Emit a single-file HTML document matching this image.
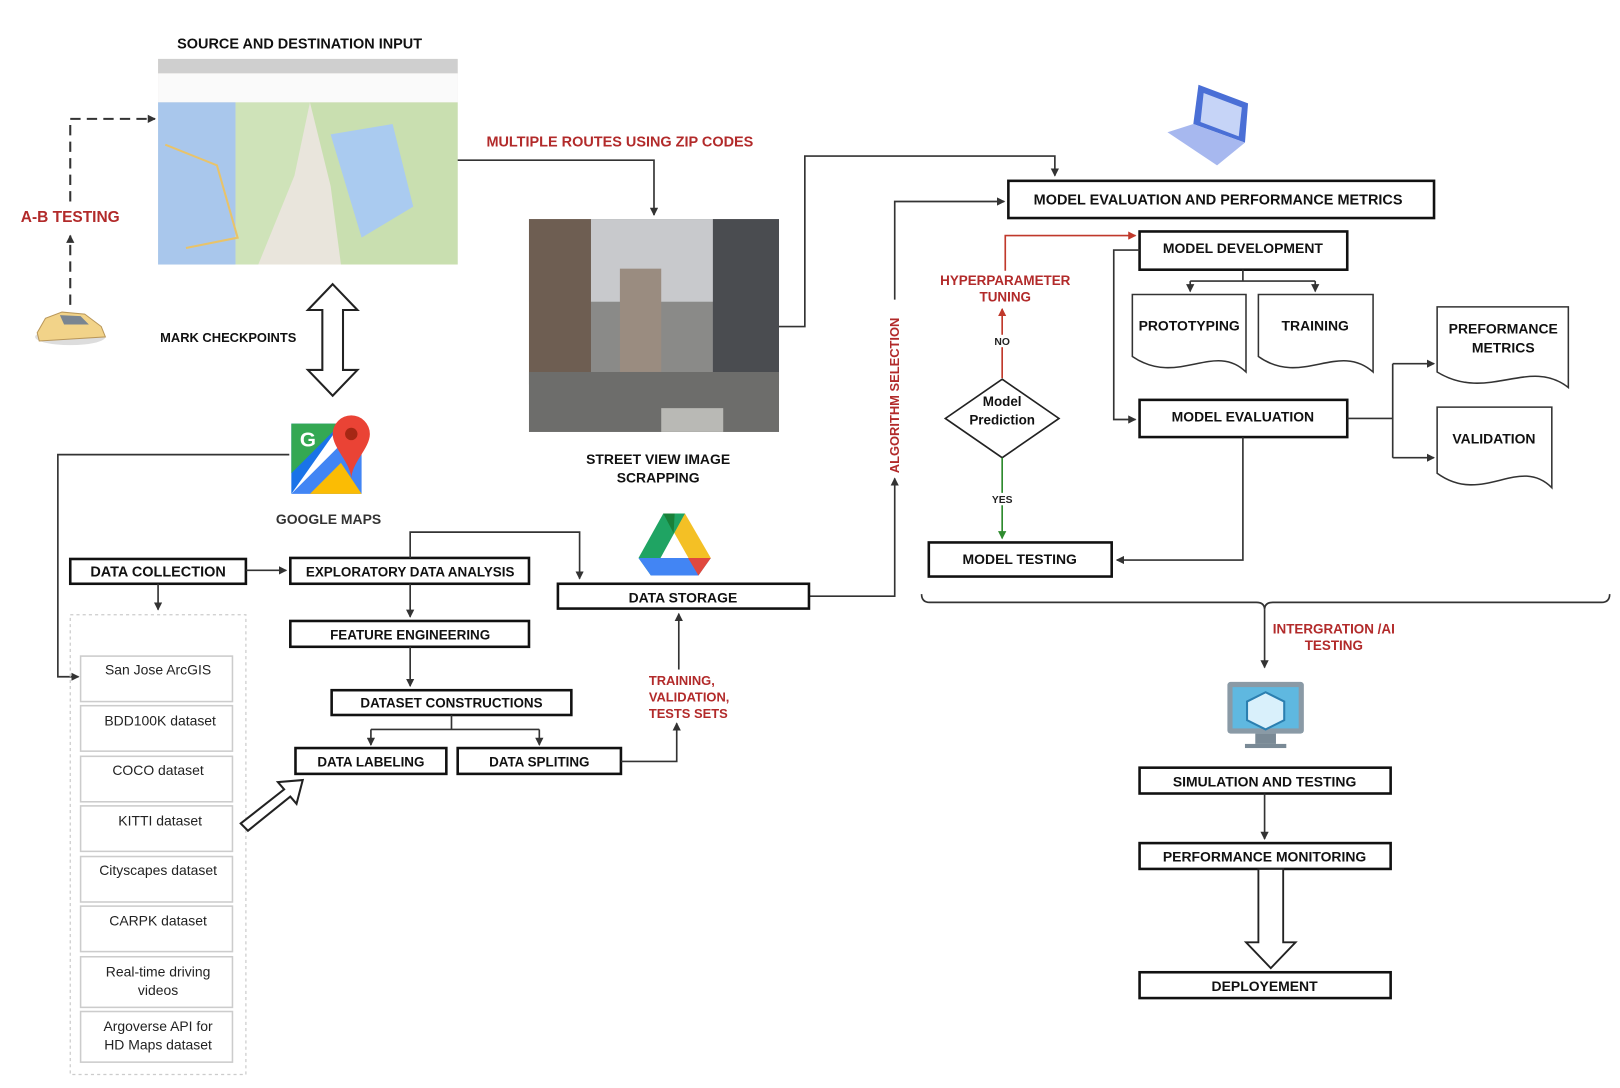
<!DOCTYPE html>
<html><head><meta charset="utf-8"><style>
html,body{margin:0;padding:0;background:#fff;}
svg{display:block;font-family:"Liberation Sans",Arial,sans-serif;}
.b{fill:#fff;stroke:#111;stroke-width:2.5;}
.t{font-weight:bold;font-size:13.5px;fill:#111;text-anchor:middle;}
.r{font-weight:bold;font-size:13px;fill:#b22a2a;text-anchor:middle;}
.l{fill:none;stroke:#333;stroke-width:1.6;}
.it{fill:#fff;stroke:#ccc;stroke-width:1.5;}
.itt{font-size:13.5px;fill:#222;text-anchor:middle;}
</style></head><body>
<svg width="1620" height="1088" viewBox="0 0 1568 1053" xmlns="http://www.w3.org/2000/svg">
<defs>
<marker id="a" markerWidth="8" markerHeight="8" refX="7" refY="4" orient="auto" markerUnits="userSpaceOnUse"><path d="M0,0 L8,4 L0,8 z" fill="#333"/></marker>
<marker id="ar" markerWidth="8" markerHeight="8" refX="7" refY="4" orient="auto" markerUnits="userSpaceOnUse"><path d="M0,0 L8,4 L0,8 z" fill="#c0392b"/></marker>
<marker id="ag" markerWidth="8" markerHeight="8" refX="7" refY="4" orient="auto" markerUnits="userSpaceOnUse"><path d="M0,0 L8,4 L0,8 z" fill="#2e8b2e"/></marker>
</defs>

<!-- source input -->
<text x="290" y="47" class="t" style="font-size:14px">SOURCE AND DESTINATION INPUT</text>
<rect x="153" y="57" width="290" height="199" fill="#e9e5dc"/>
<rect x="153" y="57" width="290" height="14" fill="#cfcfcf"/>
<rect x="153" y="71" width="290" height="28" fill="#fafafa"/>
<rect x="153" y="99" width="75" height="157" fill="#a9c7ec"/>
<path d="M228,99 L300,99 L285,170 L250,256 L228,256 z" fill="#cfe3b9"/>
<path d="M300,99 L443,99 L443,256 L330,256 L320,180 z" fill="#c9dfb0"/>
<path d="M320,130 L380,120 L400,200 L350,230 z" fill="#aacbf0"/>
<path d="M160,140 L210,160 L230,230 L180,240" fill="none" stroke="#e8c36a" stroke-width="2"/>
<path d="M68,295 L68,228" stroke="#333" stroke-width="2" stroke-dasharray="10,6" fill="none" marker-end="url(#a)"/>
<path d="M68,195 L68,115 L150,115" stroke="#333" stroke-width="2" stroke-dasharray="10,6" fill="none" marker-end="url(#a)"/>
<text x="68" y="215" class="r" style="font-size:15px">A-B TESTING</text>
<g transform="translate(68,318)"><ellipse cx="0" cy="8" rx="34" ry="8" fill="#ddd"/><path d="M-32,4 L-24,-10 L-8,-16 L14,-14 L30,-2 L34,8 L-30,12 z" fill="#f2d389" stroke="#b9975a"/><path d="M-10,-13 L10,-12 L18,-4 L-6,-4 z" fill="#7a8591"/></g>

<text x="155" y="331" font-size="12.5" font-weight="bold" fill="#111">MARK CHECKPOINTS</text>
<path d="M322,275 L346,300 L332,300 L332,358 L346,358 L322,383 L298,358 L312,358 L312,300 L298,300 z" fill="#fff" stroke="#222" stroke-width="2"/>

<!-- google maps icon -->
<g>
<path d="M282,410 L330,410 L282,478 z" fill="#1a73e8"/>
<path d="M282,410 L330,410 L282,458 z" fill="#34a853"/>
<path d="M282,478 L350,410 L350,478 z" fill="#4285f4"/>
<path d="M300,478 L330,448 L350,478 z" fill="#fbbc04"/>
<path d="M340,402 a18,18 0 0 1 18,18 c0,14 -18,28 -18,44 c0,-16 -18,-30 -18,-44 a18,18 0 0 1 18,-18z" fill="#ea4335"/>
<circle cx="340" cy="420" r="6" fill="#a52714"/>
<text x="298" y="432" font-size="20" font-weight="bold" fill="#fff" text-anchor="middle">G</text>
</g>
<text x="318" y="507" class="t" style="font-weight:bold;fill:#333">GOOGLE MAPS</text>
<path d="M280,440 L56,440 L56,655 L76,655" class="l" marker-end="url(#a)"/>

<text x="600" y="142" class="r" style="font-size:14px">MULTIPLE ROUTES  USING ZIP CODES</text>
<path d="M443,155 L633,155 L633,208" class="l" marker-end="url(#a)"/>

<!-- street photo -->
<rect x="512" y="212" width="242" height="206" fill="#8a8a88"/>
<rect x="512" y="212" width="242" height="80" fill="#c8c9cc"/>
<rect x="512" y="212" width="60" height="160" fill="#6e5e52"/>
<rect x="690" y="212" width="64" height="160" fill="#4a4c50"/>
<rect x="600" y="260" width="40" height="110" fill="#9a8c80"/>
<rect x="512" y="360" width="242" height="58" fill="#6d6d6b"/>
<rect x="640" y="395" width="60" height="23" fill="#b9b9b5"/>
<text x="637" y="449" class="t">STREET VIEW IMAGE</text>
<text x="637" y="467" class="t">SCRAPPING</text>
<path d="M754,316 L779,316 L779,151 L1021,151 L1021,170" class="l" marker-end="url(#a)"/>

<!-- laptop -->
<g>
<path d="M1160,82 L1208,100 L1205,138 L1155,120 z" fill="#4a6fd6"/>
<path d="M1165,90 L1202,104 L1199,132 L1162,118 z" fill="#c6d4f7"/>
<path d="M1130,128 L1155,120 L1205,138 L1178,160 z" fill="#a7b8ef"/>
</g>

<rect x="976" y="175" width="412" height="36" class="b"/>
<text x="1179" y="198" class="t" style="font-size:14px">MODEL  EVALUATION AND PERFORMANCE METRICS</text>

<!-- algorithm selection -->
<path d="M783,577 L866,577 L866,463" class="l" marker-end="url(#a)"/>
<text transform="translate(870,458) rotate(-90)" font-size="12.5" font-weight="bold" fill="#b22a2a">ALGORITHM SELECTION</text>
<path d="M866,290 L866,195 L972,195" class="l" marker-end="url(#a)"/>

<text x="973" y="276" class="r">HYPERPARAMETER</text>
<text x="973" y="292" class="r">TUNING</text>
<path d="M973,262 L973,228 L1099,228" fill="none" stroke="#c0392b" stroke-width="1.6" marker-end="url(#ar)"/>
<path d="M970,366 L970,299" fill="none" stroke="#c0392b" stroke-width="1.6" marker-end="url(#ar)"/>
<rect x="960" y="324" width="20" height="12" fill="#fff"/>
<text x="970" y="334" font-size="10" font-weight="bold" text-anchor="middle" fill="#222">NO</text>
<path d="M970,367 L1025,405 L970,443 L915,405 z" fill="#fff" stroke="#222" stroke-width="1.6"/>
<text x="970" y="393" class="t" style="font-size:13px">Model</text>
<text x="970" y="411" class="t" style="font-size:13px">Prediction</text>
<path d="M970,443 L970,521" fill="none" stroke="#2e8b2e" stroke-width="1.6" marker-end="url(#ag)"/>
<rect x="958" y="477" width="24" height="12" fill="#fff"/>
<text x="970" y="487" font-size="10" font-weight="bold" text-anchor="middle" fill="#222">YES</text>
<rect x="899" y="525" width="177" height="33" class="b"/>
<text x="987" y="546" class="t">MODEL TESTING</text>

<rect x="1103" y="224" width="201" height="37" class="b"/>
<text x="1203" y="245" class="t">MODEL DEVELOPMENT</text>
<path d="M1103,242 L1078,242 L1078,406 L1099,406" class="l" marker-end="url(#a)"/>
<path d="M1203,261 L1203,272 M1152,272 L1273,272" class="l"/>
<path d="M1152,272 L1152,282" class="l" marker-end="url(#a)"/>
<path d="M1273,272 L1273,282" class="l" marker-end="url(#a)"/>
<path d="M1096,285 L1206,285 L1206,360 C1175,330 1140,375 1096,345 z" fill="#fff" stroke="#333" stroke-width="1.5"/>
<text x="1151" y="320" class="t">PROTOTYPING</text>
<path d="M1218,285 L1329,285 L1329,360 C1295,330 1260,375 1218,345 z" fill="#fff" stroke="#333" stroke-width="1.5"/>
<text x="1273" y="320" class="t">TRAINING</text>

<rect x="1103" y="387" width="201" height="36" class="b"/>
<text x="1203" y="408" class="t">MODEL EVALUATION</text>
<path d="M1304,405 L1348,405 M1348,352 L1348,443" class="l"/>
<path d="M1348,352 L1388,352" class="l" marker-end="url(#a)"/>
<path d="M1348,443 L1388,443" class="l" marker-end="url(#a)"/>
<path d="M1391,297 L1518,297 L1518,375 C1480,345 1440,390 1391,360 z" fill="#fff" stroke="#333" stroke-width="1.5"/>
<text x="1455" y="323" class="t">PREFORMANCE</text>
<text x="1455" y="341" class="t">METRICS</text>
<path d="M1391,394 L1502,394 L1502,472 C1470,440 1435,490 1391,458 z" fill="#fff" stroke="#333" stroke-width="1.5"/>
<text x="1446" y="429" class="t">VALIDATION</text>
<path d="M1203,423 L1203,542 L1081,542" class="l" marker-end="url(#a)"/>

<!-- brace -->
<path d="M892,575 Q892,583 900,583 L1216,583 Q1224,583 1224,590 Q1224,583 1232,583 L1550,583 Q1558,583 1558,575" class="l"/>
<path d="M1224,590 L1224,646" class="l" marker-end="url(#a)"/>
<text x="1291" y="613" class="r">INTERGRATION /AI</text>
<text x="1291" y="629" class="r">TESTING</text>
<g>
<rect x="1188" y="660" width="74" height="50" rx="3" fill="#8a9aa6"/>
<rect x="1193" y="665" width="64" height="40" fill="#5fb8e0"/>
<path d="M1225,670 L1243,679 L1243,697 L1225,706 L1207,697 L1207,679 z" fill="#d9f0fb" stroke="#2b7fb0" stroke-width="2"/>
<rect x="1215" y="710" width="20" height="10" fill="#7a8a96"/>
<rect x="1205" y="720" width="40" height="4" fill="#7a8a96"/>
</g>
<rect x="1103" y="743" width="243" height="25" class="b"/>
<text x="1224" y="761" class="t">SIMULATION AND TESTING</text>
<path d="M1224,768 L1224,812" class="l" marker-end="url(#a)"/>
<rect x="1103" y="816" width="243" height="25" class="b"/>
<text x="1224" y="834" class="t">PERFORMANCE MONITORING</text>
<path d="M1218,841 L1242,841 L1242,912 L1254,912 L1230,937 L1206,912 L1218,912 z" fill="#fff" stroke="#222" stroke-width="1.8"/>
<rect x="1103" y="941" width="243" height="25" class="b"/>
<text x="1224" y="959" class="t">DEPLOYEMENT</text>

<!-- left bottom -->
<rect x="68" y="541" width="170" height="24" class="b"/>
<text x="153" y="558" class="t" style="font-size:14px">DATA COLLECTION</text>
<path d="M238,552 L277,552" class="l" stroke-width="2" marker-end="url(#a)"/>
<path d="M153,565 L153,590" class="l" marker-end="url(#a)"/>
<rect x="68" y="595" width="170" height="445" fill="none" stroke="#ccc" stroke-width="1.2" stroke-dasharray="3,3"/>
<g>
<rect x="78" y="635" width="147" height="44" class="it"/><text x="153" y="653" class="itt">San Jose ArcGIS</text>
<rect x="78" y="683" width="147" height="44" class="it"/><text x="155" y="702" class="itt">BDD100K dataset</text>
<rect x="78" y="732" width="147" height="44" class="it"/><text x="153" y="750" class="itt">COCO dataset</text>
<rect x="78" y="780" width="147" height="44" class="it"/><text x="155" y="799" class="itt">KITTI  dataset</text>
<rect x="78" y="829" width="147" height="44" class="it"/><text x="153" y="847" class="itt">Cityscapes dataset</text>
<rect x="78" y="877" width="147" height="44" class="it"/><text x="153" y="896" class="itt">CARPK dataset</text>
<rect x="78" y="926" width="147" height="49" class="it"/><text x="153" y="945" class="itt">Real-time driving</text><text x="153" y="963" class="itt">videos</text>
<rect x="78" y="979" width="147" height="49" class="it"/><text x="153" y="998" class="itt">Argoverse API for</text><text x="153" y="1016" class="itt">HD Maps dataset</text>
</g>
<path d="M240,805 L280,773 L272,765 L293,757 L287,780 L280,773" fill="none"/>
<path d="M233,797 L275,764 L269,757 L293,755 L287,778 L281,771 L240,804 z" fill="#fff" stroke="#222" stroke-width="2"/>

<rect x="281" y="540" width="231" height="25" class="b"/>
<text x="397" y="558" class="t" style="font-size:13px">EXPLORATORY DATA ANALYSIS</text>
<path d="M397,540 L397,515 L561,515 L561,560" class="l" marker-end="url(#a)"/>
<path d="M397,565 L397,597" class="l" marker-end="url(#a)"/>
<rect x="281" y="601" width="231" height="25" class="b"/>
<text x="397" y="619" class="t" style="font-size:13px">FEATURE ENGINEERING</text>
<path d="M397,626 L397,664" class="l" marker-end="url(#a)"/>
<rect x="321" y="668" width="232" height="24" class="b"/>
<text x="437" y="685" class="t" style="font-size:13px">DATASET CONSTRUCTIONS</text>
<path d="M437,692 L437,706 M359,706 L522,706" class="l"/>
<path d="M359,706 L359,721" class="l" marker-end="url(#a)"/>
<path d="M522,706 L522,721" class="l" marker-end="url(#a)"/>
<rect x="286" y="724" width="146" height="25" class="b"/>
<text x="359" y="742" class="t" style="font-size:13px">DATA LABELING</text>
<rect x="443" y="724" width="158" height="25" class="b"/>
<text x="522" y="742" class="t" style="font-size:13px">DATA SPLITING</text>
<path d="M601,737 L655,737 L655,700" class="l" marker-end="url(#a)"/>
<text x="628" y="663" font-size="12.5" font-weight="bold" fill="#b22a2a">TRAINING,</text>
<text x="628" y="679" font-size="12.5" font-weight="bold" fill="#b22a2a">VALIDATION,</text>
<text x="628" y="695" font-size="12.5" font-weight="bold" fill="#b22a2a">TESTS SETS</text>
<path d="M657,648 L657,594" class="l" marker-end="url(#a)"/>
<rect x="540" y="565" width="243" height="24" class="b"/>
<text x="661" y="583" class="t">DATA STORAGE</text>
<!-- drive -->
<g>
<path d="M642,497 L663,497 L688,540 L676,557 z" fill="#f4c025"/>
<path d="M642,497 L663,497 L630,557 L618,540 z" fill="#1fa463"/>
<path d="M630,557 L676,557 L688,540 L642,540 L618,540 z" fill="#4285f4"/>
<path d="M676,557 L688,540 L666,540 z" fill="#e0483e"/>
<path d="M642,497 L653,497 L652,516 z" fill="#188038"/>
</g>
</svg>
</body></html>
